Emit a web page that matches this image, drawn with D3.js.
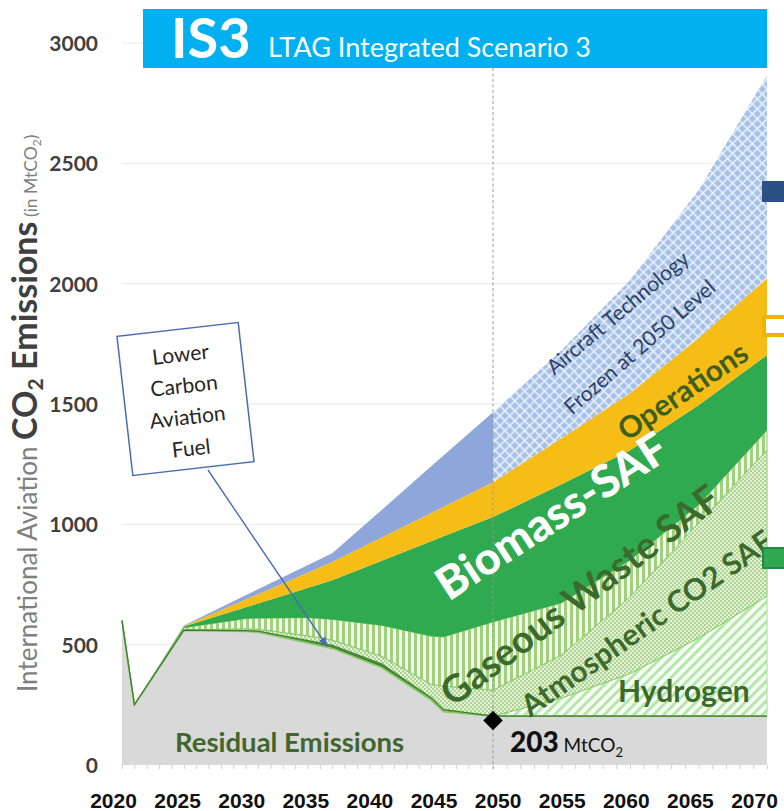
<!DOCTYPE html>
<html><head><meta charset="utf-8">
<script src="https://cdn.jsdelivr.net/npm/d3@7"></script>
<style>body{margin:0;background:#fff}svg{display:block}</style>
</head><body>
<svg id="c" width="784" height="811"></svg>
<script>
// ---------- data (MtCO2) ----------
const years       = [2020, 2021, 2025, 2030, 2031, 2035, 2037, 2041, 2045, 2046, 2050, 2055, 2060, 2065, 2070];
const residual    = [ 600,  250,  560,  555,  552,  507,  485,  405,  270,  222,  203,  203,  203,  203,  203];
const lcaf        = [   0,    0,    0,    3,    4,   10,   12,   14,   10,    8,    0,    0,    0,    0,    0];
const hydrogen    = [   0,    0,    0,    0,    0,    0,    0,    0,    0,    0,    0,   75,  177,  324,  499];
const atmospheric = [   0,    0,    2,    8,    8,   20,   22,   33,   55,   98,  108,  179,  318,  478,  606];
const gaseous     = [   0,    0,    8,   42,   46,   75,   86,  128,  200,  204,  283,  216,  153,   75,   83];
const biomass     = [   0,    0,    5,   47,   61,  123,  163,  269,  395,  418,  436,  494,  457,  415,  312];
const operations  = [   0,    0,    3,   33,   39,   64,   75,   96,  117,  123,  145,  191,  237,  278,  319];
const technology  = [   0,    0,    2,   17,   20,   31,   37,  115,  194,  213,  291,  365,  469,  615,  843];
const yTicks  = [0, 500, 1000, 1500, 2000, 2500, 3000];
const xLabels = ["2020","2025","2030","2035","2040","2045","2050","2055","2060","2065","2070"];
const frozenYear = 2050;
const residual2050 = 185;   // diamond marker position
const seriesKeys = ["residual","lcaf","hydrogen","atmospheric","gaseous","biomass","operations","technology"];
const seriesData = {residual, lcaf, hydrogen, atmospheric, gaseous, biomass, operations, technology};

// ---------- layout ----------
const svg = d3.select("#c");
const W = 784, H = 811;
const L = 122, R = 767, T = 43, B = 765;
const x = d3.scaleLinear().domain([2020, frozenYear, 2070]).range([L, 493, R]);
const y = d3.scaleLinear().domain([0, 3000]).range([B, T]);
const xl = d3.scalePoint().domain(xLabels).range([113, 754]);

const rows = years.map((yr, i) => {
  const r = {year: yr};
  seriesKeys.forEach(k => r[k] = seriesData[k][i]);
  return r;
});
const stacked = d3.stack().keys(seriesKeys)(rows);
const S = {}; stacked.forEach(s => S[s.key] = s);

// ---------- defs ----------
const defs = svg.append("defs");
const pT = defs.append("pattern").attr("id","pTech").attr("patternUnits","userSpaceOnUse")
  .attr("width",7).attr("height",7).attr("patternTransform","rotate(45)");
pT.append("rect").attr("width",7).attr("height",7).attr("fill","#a5c0e7");
pT.append("path").attr("d","M0,3.5H7M3.5,0V7").attr("stroke","#eef4fc").attr("stroke-width",1.5);

const pG = defs.append("pattern").attr("id","pGas").attr("patternUnits","userSpaceOnUse")
  .attr("width",6).attr("height",10);
pG.append("rect").attr("width",6).attr("height",10).attr("fill","#f3f9ec");
pG.append("rect").attr("width",3).attr("height",10).attr("fill","#9fd07c");

const pA = defs.append("pattern").attr("id","pAtm").attr("patternUnits","userSpaceOnUse")
  .attr("width",4).attr("height",4);
pA.append("rect").attr("width",4).attr("height",4).attr("fill","#e6f2da");
pA.append("circle").attr("cx",1).attr("cy",1).attr("r",0.95).attr("fill","#94c771");
pA.append("circle").attr("cx",3).attr("cy",3).attr("r",0.95).attr("fill","#94c771");

const pH = defs.append("pattern").attr("id","pHyd").attr("patternUnits","userSpaceOnUse")
  .attr("width",7).attr("height",7).attr("patternTransform","rotate(45)");
pH.append("rect").attr("width",7).attr("height",7).attr("fill","#ffffff");
pH.append("rect").attr("width",3.2).attr("height",7).attr("fill","#b3e9a6");

defs.append("clipPath").attr("id","cLeft").append("rect")
  .attr("x",0).attr("y",0).attr("width",x(frozenYear)).attr("height",H);
defs.append("clipPath").attr("id","cRight").append("rect")
  .attr("x",x(frozenYear)).attr("y",0).attr("width",W-x(frozenYear)).attr("height",H);
defs.append("clipPath").attr("id","cPlot").append("rect")
  .attr("x",L).attr("y",0).attr("width",R-L).attr("height",H);

const mk = defs.append("marker").attr("id","arr").attr("viewBox","0 0 10 10")
  .attr("refX",9).attr("refY",5).attr("markerWidth",7).attr("markerHeight",7)
  .attr("markerUnits","strokeWidth").attr("orient","auto");
mk.append("path").attr("d","M0,1L10,5L0,9Z").attr("fill","#4a6cb3");

// ---------- grid ----------
svg.append("g").selectAll("line").data(yTicks.filter(d => d > 0)).join("line")
  .attr("x1",L).attr("x2",R).attr("y1",d=>y(d)).attr("y2",d=>y(d))
  .attr("stroke","#e9e9e9").attr("stroke-width",1);

// ---------- areas ----------
const area = d3.area().x(d => x(d.data.year)).y0(d => y(d[0])).y1(d => y(d[1]));
const fills = {
  residual:"#d9d9d9", lcaf:"#3e7d31", hydrogen:"url(#pHyd)", atmospheric:"url(#pAtm)",
  gaseous:"url(#pGas)", biomass:"#2faa50", operations:"#f6bd17"
};
const strokes = {hydrogen:"#9fe08f", atmospheric:"#8ccb69", gaseous:"#8ccb69"};
["residual","lcaf","hydrogen","atmospheric","gaseous","biomass","operations"].forEach(k => {
  svg.append("path").datum(S[k]).attr("d", area).attr("fill", fills[k])
    .attr("stroke", strokes[k] || "none").attr("stroke-width", 1);
});
svg.append("path").datum(S.technology).attr("d", area).attr("fill","#8ea6d9")
  .attr("clip-path","url(#cLeft)");
svg.append("path").datum(S.technology).attr("d", area).attr("fill","url(#pTech)")
  .attr("clip-path","url(#cRight)");

// residual outline
svg.append("path").datum(S.residual)
  .attr("d", d3.line().x(d => x(d.data.year)).y(d => y(d[1])))
  .attr("fill","none").attr("stroke","#86cc62").attr("stroke-width",1.8);
svg.append("path").datum(S.lcaf)
  .attr("d", d3.line().x(d => x(d.data.year)).y(d => y(d[1])))
  .attr("fill","none").attr("stroke","#3e7d31").attr("stroke-width",1.2);

// ---------- axes ----------
const yAxis = svg.append("g").attr("transform",`translate(${L-24},0)`)
  .call(d3.axisLeft(y).tickValues(yTicks).tickFormat(d3.format("d")).tickSize(0).tickPadding(0));
yAxis.select(".domain").remove();
yAxis.selectAll("text").attr("font-family","Lato").attr("font-weight","700")
  .attr("font-size",21).attr("fill","#404040").attr("dy","0.36em");

const xt = svg.append("g").attr("transform",`translate(0,${B})`)
  .call(d3.axisBottom(x).tickValues(d3.range(2020, 2071)).tickSize(4).tickFormat(""));
xt.select(".domain").remove();
xt.selectAll("line").attr("stroke","#cfcfcf");

const xAxis = svg.append("g").attr("transform",`translate(0,${B+28})`)
  .call(d3.axisBottom(xl).tickSize(0).tickPadding(0));
xAxis.select(".domain").remove();
xAxis.selectAll("text").attr("font-family","Liberation Sans").attr("font-weight","700")
  .attr("font-size",21).attr("fill","#111");

// ---------- 2050 line & marker ----------
svg.append("line").attr("x1",x(frozenYear)).attr("x2",x(frozenYear)).attr("y1",68).attr("y2",B+4)
  .attr("stroke","#9a9a9a").attr("stroke-width",1).attr("stroke-dasharray","3,2.5");
svg.append("path").attr("d", d3.symbol(d3.symbolSquare, 190)())
  .attr("transform",`translate(${x(frozenYear)},${y(residual2050)}) rotate(45)`).attr("fill","#000");

// ---------- title banner ----------
svg.append("rect").attr("x",143).attr("y",9).attr("width",624).attr("height",59).attr("fill","#00b0f0");
svg.append("text").attr("x",171).attr("y",58).attr("font-family","Lato").attr("font-weight","700")
  .attr("font-size",56).attr("fill","#fff").text("IS3");
svg.append("text").attr("x",268).attr("y",57).attr("font-family","Lato")
  .attr("font-size",27).attr("fill","#fff").text("LTAG Integrated Scenario 3");

// ---------- y title ----------
const yt = svg.append("text").attr("transform","translate(37,692) rotate(-90)")
  .attr("font-family","Lato");
yt.append("tspan").attr("font-size",26).attr("fill","#7f7f7f").text("International Aviation ");
yt.append("tspan").attr("font-size",34).attr("font-weight","700").attr("fill","#404040").text("CO");
yt.append("tspan").attr("font-size",21).attr("font-weight","700").attr("fill","#404040").attr("dy",6).text("2");
yt.append("tspan").attr("font-size",34).attr("font-weight","700").attr("fill","#404040").attr("dy",-6).text(" Emissions");
yt.append("tspan").attr("font-size",17.5).attr("fill","#7f7f7f").text(" (in MtCO");
yt.append("tspan").attr("font-size",12).attr("fill","#7f7f7f").attr("dy",4).text("2");
yt.append("tspan").attr("font-size",17.5).attr("fill","#7f7f7f").attr("dy",-4).text(")");

// ---------- in-chart labels ----------
const labelLayer = svg.append("g").attr("clip-path","url(#cPlot)");
function rotLabel(cx, cy, ang, txt, size, color, weight) {
  return labelLayer.append("text").attr("transform",`translate(${cx},${cy}) rotate(${ang})`)
    .attr("text-anchor","middle").attr("dominant-baseline","central")
    .attr("font-family","Lato").attr("font-weight",weight).attr("font-size",size)
    .attr("fill",color).text(txt);
}
rotLabel(551, 515, -33, "Biomass-SAF", 45, "#ffffff", 900);
rotLabel(579, 594, -37, "Gaseous Waste SAF", 38, "#3c6a2c", 700);
rotLabel(646, 622, -35, "Atmospheric CO2 SAF", 30, "#3c6a2c", 700);
rotLabel(682, 390, -34, "Operations", 30, "#3d5f1e", 700);
rotLabel(617, 312, -40, "Aircraft Technology", 21, "#2d4166", 400);
rotLabel(639, 346, -41, "Frozen at 2050 Level", 21, "#2d4166", 400);

svg.append("text").attr("x",618).attr("y",702).attr("font-family","Lato").attr("font-weight","700")
  .attr("font-size",30).attr("fill","#3c6a2c").text("Hydrogen");
svg.append("text").attr("x",175).attr("y",752).attr("font-family","Lato").attr("font-weight","700")
  .attr("font-size",27.5).attr("fill","#41662d").text("Residual Emissions");
const t203 = svg.append("text").attr("x",510).attr("y",752).attr("font-family","Lato").attr("fill","#111");
t203.append("tspan").attr("font-weight","900").attr("font-size",28).text("203");
t203.append("tspan").attr("font-size",19).text(" MtCO");
t203.append("tspan").attr("font-size",13).attr("dy",5).text("2");

// ---------- LCAF callout ----------
const box = svg.append("g").attr("transform","translate(185.5,399) rotate(-6.5)");
box.append("rect").attr("x",-61).attr("y",-70).attr("width",122).attr("height",140)
  .attr("fill","#fff").attr("stroke","#4a6cb3").attr("stroke-width",1.5);
["Lower","Carbon","Aviation","Fuel"].forEach((s, i) => {
  box.append("text").attr("x",0).attr("y",-46 + i*31.5).attr("text-anchor","middle")
    .attr("dominant-baseline","central").attr("font-family","Lato").attr("font-size",21)
    .attr("fill","#262626").text(s);
});
svg.append("line").attr("x1",208).attr("y1",470).attr("x2",327).attr("y2",646)
  .attr("stroke","#4a6cb3").attr("stroke-width",1.4).attr("marker-end","url(#arr)");

// ---------- right-edge legend keys ----------
svg.append("rect").attr("x",762).attr("y",181).attr("width",30).attr("height",21).attr("fill","#2c4f87");
svg.append("rect").attr("x",764).attr("y",317).attr("width",30).attr("height",18)
  .attr("fill","#fff").attr("stroke","#f0b400").attr("stroke-width",4);
svg.append("rect").attr("x",763).attr("y",548).attr("width",30).attr("height",20)
  .attr("fill","#2fa84f").attr("stroke","#23874a").attr("stroke-width",2);
</script>
</body></html>
